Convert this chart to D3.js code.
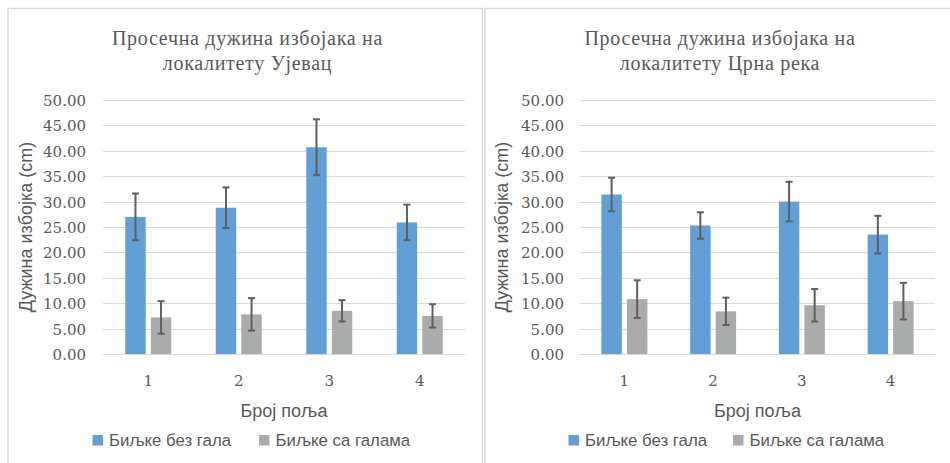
<!DOCTYPE html>
<html>
<head>
<meta charset="utf-8">
<script src="https://cdn.jsdelivr.net/npm/d3@7"></script>
<style>
  html, body { margin: 0; padding: 0; background: #ffffff; }
  svg { display: block; }
</style>
</head>
<body>
<svg id="chart" width="950" height="463"></svg>
<script>
// ---- data ----
const categories = ["1", "2", "3", "4"];
const seriesNames = ["Биљке без гала", "Биљке са галама"];
const yTicks = [0, 5, 10, 15, 20, 25, 30, 35, 40, 45, 50];

const ujevacWithout = [27.0, 28.8, 40.7, 25.9];
const ujevacWithoutErr = [4.6, 4.0, 5.5, 3.5];
const ujevacWith = [7.2, 7.8, 8.5, 7.5];
const ujevacWithErr = [3.2, 3.2, 2.1, 2.3];

const crnaWithout = [31.4, 25.3, 30.0, 23.5];
const crnaWithoutErr = [3.3, 2.6, 3.9, 3.7];
const crnaWith = [10.8, 8.4, 9.6, 10.4];
const crnaWithErr = [3.7, 2.7, 3.2, 3.6];

const titles = [
  ["Просечна дужина избојака на", "локалитету Ујевац"],
  ["Просечна дужина избојака на", "локалитету Црна река"]
];
const yAxisTitle = "Дужина избојка (cm)";
const xAxisTitle = "Број поља";

const colors = ["#629fd7", "#aaabab"];

const svg = d3.select("#chart");

// panel frames
svg.append("rect").attr("x", 8).attr("y", 8.5).attr("width", 474.5).attr("height", 480)
  .attr("fill", "none").attr("stroke", "#d9d9d9").attr("stroke-width", 1.5);
svg.append("rect").attr("x", 485).attr("y", 8.5).attr("width", 480).attr("height", 480)
  .attr("fill", "none").attr("stroke", "#d9d9d9").attr("stroke-width", 1.5);

function drawPanel(p) {
  const g = svg.append("g");
  const y = d3.scaleLinear().domain([0, 50]).range([354, 100]);
  const x0 = d3.scaleBand().domain(categories).range([p.plotLeft, p.plotRight]).padding(0);
  const groupW = 46;
  const x1 = d3.scaleBand().domain([0, 1]).range([0, groupW]).paddingInner(0.2);

  // title
  p.title.forEach((t, i) => {
    g.append("text").attr("x", p.titleX).attr("y", 45 + i * 25)
      .attr("text-anchor", "middle")
      .attr("font-family", "'Liberation Serif', 'Times New Roman', serif")
      .attr("font-size", 20).attr("letter-spacing", 0.7).attr("fill", "#595959").text(t);
  });

  // gridlines
  g.append("g").selectAll("line").data(yTicks).join("line")
    .attr("x1", p.plotLeft).attr("x2", p.plotRight)
    .attr("y1", d => Math.round(y(d)) + 0.5).attr("y2", d => Math.round(y(d)) + 0.5)
    .attr("stroke", "#d9d9d9").attr("stroke-width", 1);

  // y axis tick labels
  const yAxis = d3.axisLeft(y).tickValues(yTicks).tickFormat(d3.format(".2f")).tickSize(0).tickPadding(0);
  const ya = g.append("g").attr("transform", `translate(${p.tickRight},0)`).call(yAxis);
  ya.select(".domain").remove();
  ya.selectAll("text").attr("font-family", "'DejaVu Serif', serif").attr("font-size", 15)
    .attr("fill", "#595959").attr("dy", "0.36em");

  // x axis tick labels
  const xAxis = d3.axisBottom(x0).tickSize(0).tickPadding(0);
  const xa = g.append("g").attr("transform", `translate(0,386)`).call(xAxis);
  xa.select(".domain").remove();
  xa.selectAll("text").attr("font-family", "'DejaVu Serif', serif").attr("font-size", 15)
    .attr("fill", "#595959").attr("dy", 0);

  // bars + error bars
  const series = [
    { vals: p.without, err: p.withoutErr },
    { vals: p.with, err: p.withErr }
  ];
  series.forEach((s, si) => {
    const bx = (c) => x0(c) + x0.bandwidth() / 2 - groupW / 2 + x1(si);
    g.append("g").selectAll("rect").data(categories).join("rect")
      .attr("x", c => bx(c)).attr("width", x1.bandwidth())
      .attr("y", (c, i) => y(s.vals[i])).attr("height", (c, i) => y(0) - y(s.vals[i]))
      .attr("fill", colors[si]);
    const eg = g.append("g").attr("stroke", "#5f5f5f").attr("stroke-width", 2);
    categories.forEach((c, i) => {
      const cx = bx(c) + x1.bandwidth() / 2;
      const top = y(s.vals[i] + s.err[i]);
      const bot = y(s.vals[i] - s.err[i]);
      eg.append("line").attr("x1", cx).attr("x2", cx).attr("y1", top).attr("y2", bot);
      eg.append("line").attr("x1", cx - 3.5).attr("x2", cx + 3.5).attr("y1", top).attr("y2", top);
      eg.append("line").attr("x1", cx - 3.5).attr("x2", cx + 3.5).attr("y1", bot).attr("y2", bot);
    });
  });

  // y axis title
  g.append("text").attr("transform", `translate(${p.yTitleX},${(y(0) + y(50)) / 2}) rotate(-90)`)
    .attr("text-anchor", "middle").attr("dy", "0.35em")
    .attr("font-family", "'Liberation Sans', Arial, sans-serif").attr("font-size", 18)
    .attr("fill", "#595959").text(yAxisTitle);

  // x axis title
  g.append("text").attr("x", (p.plotLeft + p.plotRight) / 2).attr("y", 417)
    .attr("text-anchor", "middle")
    .attr("font-family", "'Liberation Sans', Arial, sans-serif").attr("font-size", 18)
    .attr("fill", "#595959").text(xAxisTitle);

  // legend
  seriesNames.forEach((n, i) => {
    g.append("rect").attr("x", p.legendX[i]).attr("y", 435).attr("width", 10.5).attr("height", 10.5)
      .attr("fill", colors[i]);
    g.append("text").attr("x", p.legendX[i] + 16.5).attr("y", 446)
      .attr("font-family", "'Liberation Sans', Arial, sans-serif").attr("font-size", 16.8)
      .attr("fill", "#595959").text(n);
  });
}

drawPanel({
  plotLeft: 103, plotRight: 465, tickRight: 86, yTitleX: 26, titleX: 247.5,
  title: titles[0], legendX: [92.5, 259],
  without: ujevacWithout, withoutErr: ujevacWithoutErr, with: ujevacWith, withErr: ujevacWithErr
});
drawPanel({
  plotLeft: 580, plotRight: 935, tickRight: 564, yTitleX: 502, titleX: 720,
  title: titles[1], legendX: [568.5, 733],
  without: crnaWithout, withoutErr: crnaWithoutErr, with: crnaWith, withErr: crnaWithErr
});
</script>
</body>
</html>
